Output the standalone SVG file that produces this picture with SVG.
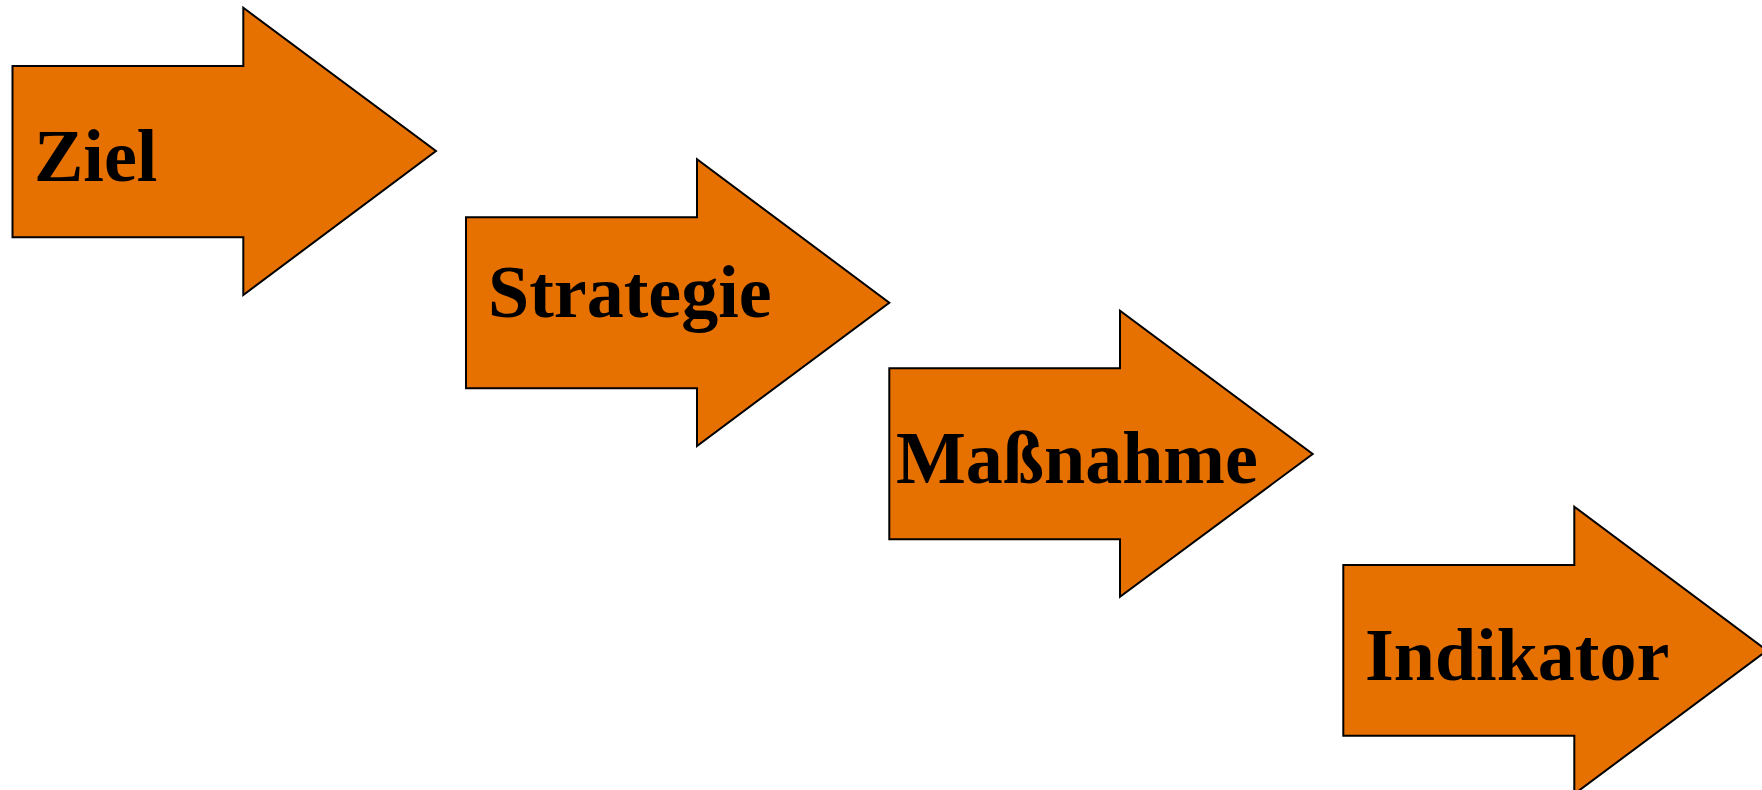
<svg xmlns="http://www.w3.org/2000/svg" width="1762" height="790" viewBox="0 0 1762 790">
<style>
.arrow{fill:#E67000;stroke:#000;stroke-width:2;stroke-linejoin:miter}
.lbl{font-family:"Liberation Serif","Times New Roman",serif;font-weight:bold;font-size:74px;fill:#000}
</style>
<rect width="1762" height="790" fill="#fff"/>
<g id="ziel">
<polygon class="arrow" points="12.5,66 243.3,66 243.3,7.7 436,151 243.3,295 243.3,237.3 12.5,237.3"/>
<text class="lbl" x="34" y="181">Ziel</text>
</g>
<g id="strategie">
<polygon class="arrow" points="466,217.3 697,217.3 697,159.3 889.3,302.7 697,446 697,388.3 466,388.3"/>
<text class="lbl" x="488" y="316.7">Strategie</text>
</g>
<g id="massnahme">
<polygon class="arrow" points="889.3,368.3 1120,368.3 1120,310.7 1312.7,454 1120,596.7 1120,539.3 889.3,539.3"/>
<text class="lbl" x="896" y="482.7">Maßnahme</text>
</g>
<g id="indikator">
<polygon class="arrow" points="1343.3,565 1574.3,565 1574.3,506.7 1767,650.5 1574.3,794 1574.3,735.7 1343.3,735.7"/>
<text class="lbl" x="1365" y="680">Indikator</text>
</g>
<g id="connectors"></g>
</svg>
